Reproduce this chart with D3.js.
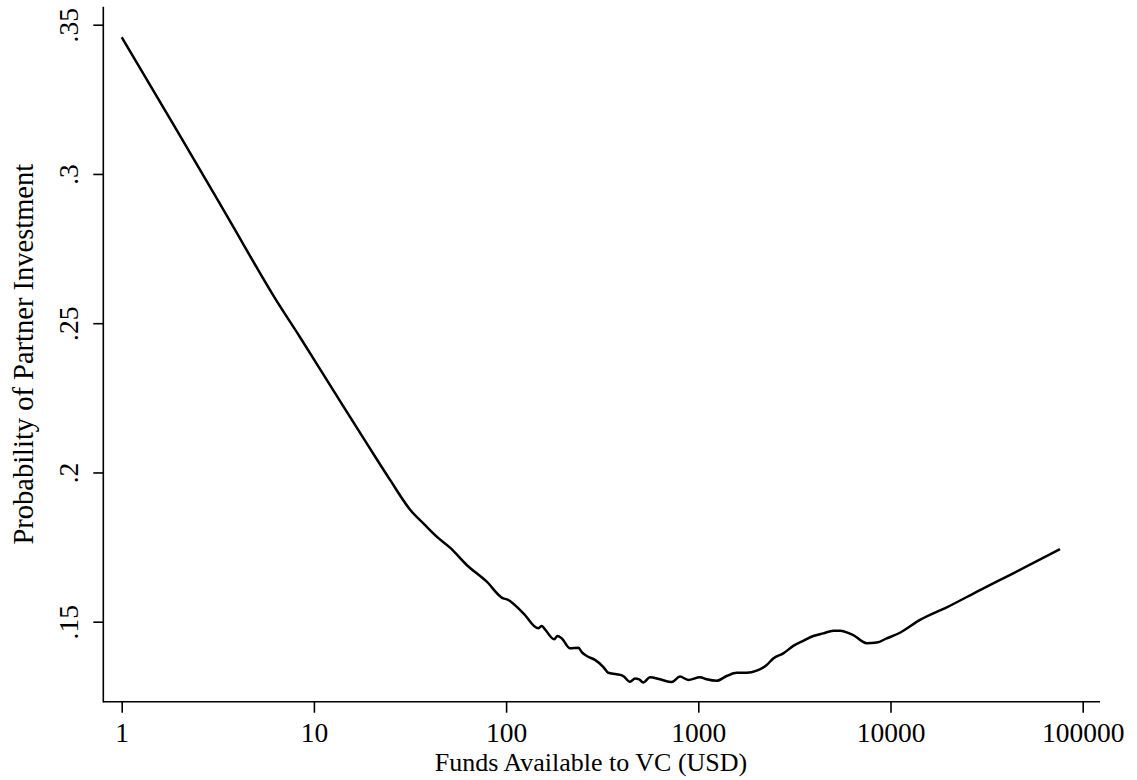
<!DOCTYPE html>
<html>
<head>
<meta charset="utf-8">
<script src="https://cdn.jsdelivr.net/npm/d3@7"></script>
<style>
  body { margin: 0; background: #fff; }
  text { font-family: "Liberation Serif", "Times New Roman", serif; fill: #000; }
</style>
</head>
<body>
<div class="graph"></div>
<script>
// funds available (USD) and fitted probability
var funds = [1, 1.93, 3.66, 6.28, 8.47, 12.6, 18.8, 24.9, 31.6, 37.8,
             43.7, 51.1, 62.4, 79.3, 96.7, 101, 123, 147, 153, 159,
             178, 185, 195, 215, 238, 247, 263, 290, 320, 340,
             376, 407, 441, 469, 493, 517, 561, 632, 727, 803,
             887, 1020, 1106, 1247, 1405, 1585, 1786, 2013, 2269, 2456,
             2769, 3121, 3518, 3966, 4471, 5040, 5462, 6404, 7518, 8476,
             9555, 11200, 14240, 19610, 29230, 43540, 76200];
var prob = [.3458, .3148, .2842, .2583, .2453, .2276, .2098, .1975, .1876, .1824,
            .1784, .1748, .1690, .1634, .1578, .1575, .1528, .1478, .1486, .1475,
            .1441, .1452, .1444, .1411, .1413, .1399, .1385, .1372, .1349, .1329,
            .1324, .1318, .1299, .1310, .1307, .1296, .1314, .1307, .1298, .1316,
            .1305, .1314, .1307, .1302, .1318, .1329, .1329, .1336, .1355, .1377,
            .1394, .1419, .1436, .1452, .1461, .1470, .1470, .1455, .1428, .1430,
            .1444, .1463, .1506, .1548, .1606, .1662, .1743];

var xTicks = [1, 10, 100, 1000, 10000, 100000];
var yTicks = [.15, .2, .25, .3, .35];
var yTickLabels = [".15", ".2", ".25", ".3", ".35"];

var width = 1137, height = 780;

var svg = d3.select(".graph").append("svg")
  .attr("width", width)
  .attr("height", height);

var xScale = d3.scaleLog()
  .domain([1, 100000])
  .range([121.7, 1082.7]);

var yScale = d3.scaleLinear()
  .domain([.15, .35])
  .range([621.7, 24.7]);

// plot region edges (Stata extends the axis lines past the outer ticks)
var plotLeft = 103.3, plotRight = 1100, plotTop = 6.7, plotBottom = 701.7;

// x axis
var xAxis = d3.axisBottom(xScale)
  .tickValues(xTicks)
  .tickFormat(d3.format("d"))
  .tickSize(11)
  .tickPadding(5);

var gx = svg.append("g")
  .attr("transform", "translate(0," + plotBottom + ")")
  .call(xAxis);
gx.select(".domain").remove();
gx.selectAll(".tick line").attr("stroke", "#000").attr("stroke-width", 1.6);
gx.selectAll(".tick text")
  .attr("font-size", 27.5)
  .attr("font-family", "Liberation Serif")
  .attr("dy", null)
  .attr("y", 40);

// y axis
var yAxis = d3.axisLeft(yScale)
  .tickValues(yTicks)
  .tickFormat(function(d, i) { return yTickLabels[i]; })
  .tickSize(10);

var gy = svg.append("g")
  .attr("transform", "translate(" + plotLeft + ",0)")
  .call(yAxis);
gy.select(".domain").remove();
gy.selectAll(".tick line").attr("stroke", "#000").attr("stroke-width", 1.6);
gy.selectAll(".tick text")
  .attr("font-size", 27.5)
  .attr("font-family", "Liberation Serif")
  .attr("x", null)
  .attr("dy", null)
  .attr("text-anchor", "middle")
  .attr("transform", "translate(-25,0) rotate(-90)");

// axis lines
svg.append("line")
  .attr("x1", plotLeft).attr("x2", plotRight)
  .attr("y1", plotBottom).attr("y2", plotBottom)
  .attr("stroke", "#000").attr("stroke-width", 1.6);
svg.append("line")
  .attr("x1", plotLeft).attr("x2", plotLeft)
  .attr("y1", plotTop).attr("y2", plotBottom + 0.8)
  .attr("stroke", "#000").attr("stroke-width", 1.6);

// titles
svg.append("text")
  .attr("x", 591)
  .attr("y", 770.5)
  .attr("text-anchor", "middle")
  .attr("font-size", 26)
  .text("Funds Available to VC (USD)");

svg.append("text")
  .attr("transform", "translate(33," + ((plotTop + plotBottom) / 2) + ") rotate(-90)")
  .attr("text-anchor", "middle")
  .attr("font-size", 28.5)
  .text("Probability of Partner Investment");

// the curve
var points = funds.map(function(d, i) { return {x: d, y: prob[i]}; });

var line = d3.line()
  .curve(d3.curveMonotoneX)
  .x(function(d) { return xScale(d.x); })
  .y(function(d) { return yScale(d.y); });

svg.append("path")
  .datum(points)
  .attr("d", line)
  .attr("fill", "none")
  .attr("stroke", "#000")
  .attr("stroke-width", 2.5)
  .attr("stroke-linejoin", "round");
</script>
</body>
</html>
